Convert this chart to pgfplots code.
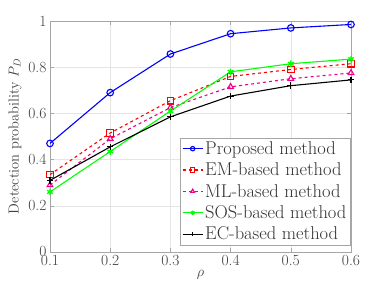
\documentclass[border=0pt]{standalone}
\usepackage{pgfplots}
\pgfplotsset{compat=1.18}
\begin{document}
\begin{tikzpicture}
\begin{axis}[
  scale only axis,
  width=301pt, height=231pt,
  xmin=0.1, xmax=0.6, ymin=0, ymax=1,
  xtick={0.1,0.2,0.3,0.4,0.5,0.6},
  ytick={0,0.2,0.4,0.6,0.8,1},
  xticklabels={0.1,0.2,0.3,0.4,0.5,0.6},
  yticklabels={0,0.2,0.4,0.6,0.8,1},
  tick align=inside,
  tick pos=both,
  major tick length=4pt,
  grid=major,
  major grid style={gray!20},
  axis line style={gray!70},
  every tick/.style={gray!70},
  tick label style={font=\fontsize{15.5}{17}\selectfont, text=black!75},
  xlabel={$\rho$},
  ylabel={Detection probability $P_D$},
  label style={font=\fontsize{14.5}{17}\selectfont, text=black!75},
  xlabel style={yshift=3pt},
  ylabel style={yshift=0pt},
  legend style={
    at={(0.997,0.03)}, anchor=south east,
    font=\fontsize{18.5}{20}\selectfont,
    draw=gray!70, fill=white,
    row sep=3pt, inner sep=1.5pt,
    text=black!80,
  },
  legend cell align=left,
  legend image code/.code={\draw[mark repeat=2,mark phase=2,mark size=2.2pt] plot coordinates {(0pt,0pt)(10pt,0pt)(20pt,0pt)};},
  every axis plot/.append style={line width=1.1pt, mark size=3.3pt},
]
\addplot[blue, mark=o] coordinates {(0.1,0.47) (0.2,0.69) (0.3,0.857) (0.4,0.945) (0.5,0.97) (0.6,0.985)};
\addlegendentry{Proposed method}
\addplot[red, dashed, mark=square, mark options={solid}] coordinates {(0.1,0.335) (0.2,0.515) (0.3,0.655) (0.4,0.76) (0.5,0.79) (0.6,0.815)};
\addlegendentry{EM-based method}
\addplot[magenta, dashed, mark=triangle, mark options={solid}] coordinates {(0.1,0.29) (0.2,0.49) (0.3,0.625) (0.4,0.715) (0.5,0.75) (0.6,0.775)};
\addlegendentry{ML-based method}
\addplot[green, mark=asterisk, mark options={line width=1.3pt}] coordinates {(0.1,0.26) (0.2,0.435) (0.3,0.61) (0.4,0.78) (0.5,0.815) (0.6,0.835)};
\addlegendentry{SOS-based method}
\addplot[black, mark=+] coordinates {(0.1,0.31) (0.2,0.455) (0.3,0.585) (0.4,0.675) (0.5,0.72) (0.6,0.745)};
\addlegendentry{EC-based method}
\end{axis}
\pgfresetboundingbox
\path[use as bounding box] ([shift={(-50pt,-39pt)}]current axis.south west) rectangle ([shift={(37pt,21pt)}]current axis.north east);
\end{tikzpicture}
\end{document}
